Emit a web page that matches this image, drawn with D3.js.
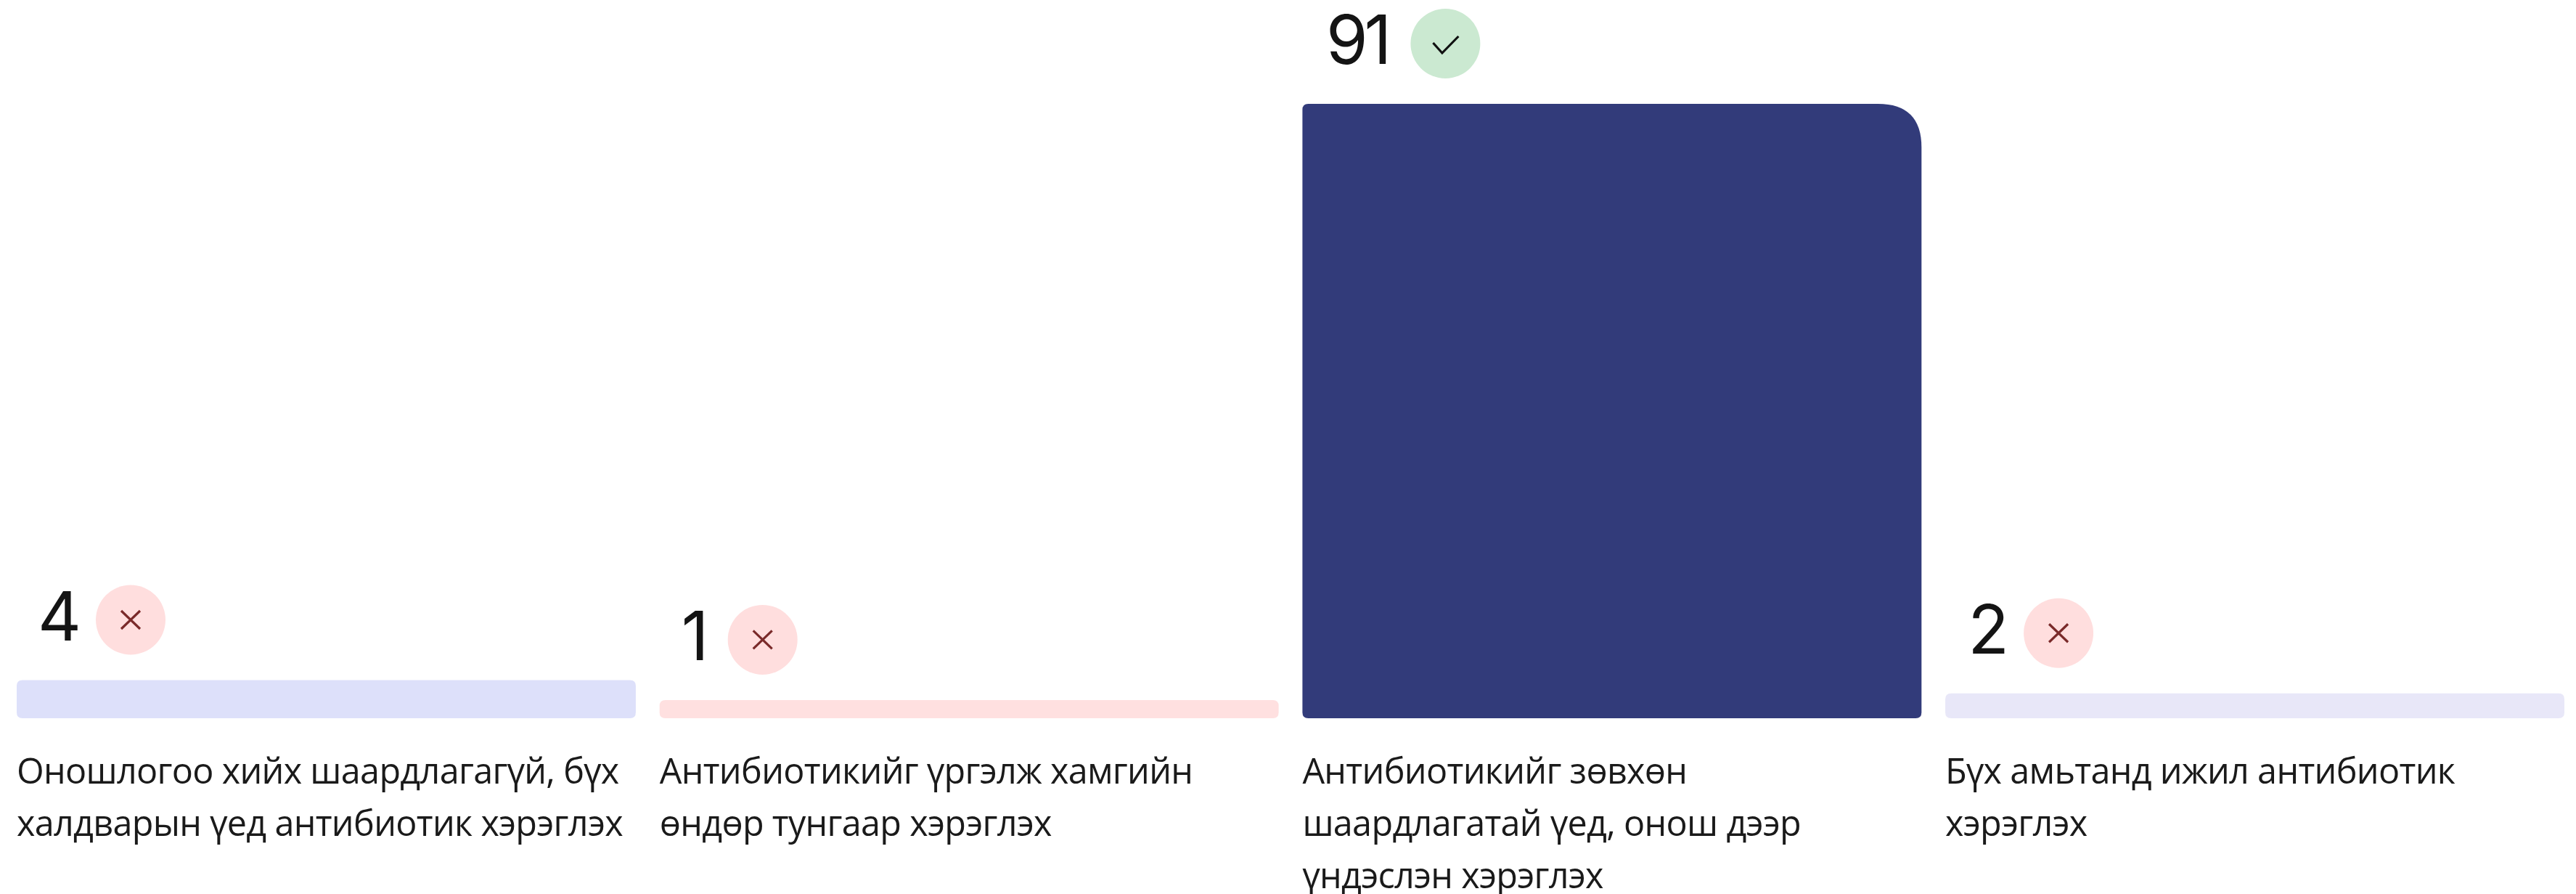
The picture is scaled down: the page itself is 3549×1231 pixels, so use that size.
<!DOCTYPE html>
<html lang="mn">
<head>
  <meta charset="UTF-8">
  <title>Антибиотик</title>
  <script src="https://d3js.org/d3.v7.min.js"></script>
  <style>
    html, body { margin: 0; padding: 0; background: #fff; }
    svg { display: block; }
    .value { font-family: "Inter", sans-serif; font-weight: 400; font-size: 93px; fill: #141414; text-anchor: end; letter-spacing: -5px; }
    .label { font-family: "Open Sans", sans-serif; font-size: 48.5px; letter-spacing: -0.68px; fill: #1a1a1a; }
  </style>
</head>
<body>
  <svg id="viz" width="3549" height="1231"></svg>

  <script>
    const categories = [
      ["Оношлогоо хийх шаардлагагүй, бүх", "халдварын үед антибиотик хэрэглэх"],
      ["Антибиотикийг үргэлж хамгийн", "өндөр тунгаар хэрэглэх"],
      ["Антибиотикийг зөвхөн", "шаардлагатай үед, онош дээр", "үндэслэн хэрэглэх"],
      ["Бүх амьтанд ижил антибиотик", "хэрэглэх"]
    ];
    const values = [4, 1, 91, 2];
    const correct = [false, false, true, false];
    const barColors = ["#dde0fa", "#ffe0e0", "#323b7a", "#e8e7f8"];

    // badge position from the left edge of each bar, and gap to the number
    const badgeOffset = [157, 142, 197, 156];
    const valueGap = [25, 31, 31, 25];

    const svg = d3.select("#viz"),
          baseline = 989,
          badgeR = 48;

    const x = d3.scaleBand()
      .domain(d3.range(values.length))
      .range([23, 3533])
      .paddingInner(0.037);

    // bars start from a stub, value 0 sits a little above the baseline
    const y = d3.scaleLinear()
      .domain([0, 91])
      .range([973, 143]);

    const maxValue = d3.max(values);

    function barPath(i) {
      const p = d3.path(),
            x0 = x(i),
            x1 = x0 + x.bandwidth(),
            top = y(values[i]),
            r = 8,
            rTop = values[i] === maxValue ? 60 : r;
      p.moveTo(x0 + r, top);
      p.lineTo(x1 - rTop, top);
      p.quadraticCurveTo(x1, top, x1, top + rTop);
      p.lineTo(x1, baseline - r);
      p.quadraticCurveTo(x1, baseline, x1 - r, baseline);
      p.lineTo(x0 + r, baseline);
      p.quadraticCurveTo(x0, baseline, x0, baseline - r);
      p.lineTo(x0, top + r);
      p.quadraticCurveTo(x0, top, x0 + r, top);
      p.closePath();
      return p.toString();
    }

    // Draw bars
    svg.selectAll(".bar")
      .data(values)
      .enter()
      .append("path")
      .attr("class", "bar")
      .attr("d", (_, i) => barPath(i))
      .attr("fill", (_, i) => barColors[i]);

    // Draw value + badge above each bar
    const badge = svg.selectAll(".badge")
      .data(values)
      .enter()
      .append("g")
      .attr("class", "badge")
      .attr("transform", (d, i) => `translate(${x(i) + badgeOffset[i]},${y(d) - 83})`);

    badge.append("text")
      .attr("class", "value")
      .attr("x", (_, i) => -badgeR - valueGap[i])
      .attr("y", 28)
      .text(d => d);

    badge.append("circle")
      .attr("r", badgeR)
      .attr("fill", (_, i) => correct[i] ? "#cbe9d1" : "#ffdede");

    badge.append("path")
      .attr("d", (_, i) => correct[i]
        ? "M-17,-1L-4.5,13L18,-10"
        : "M-13,-12.5L13,12.5M13,-12.5L-13,12.5")
      .attr("fill", "none")
      .attr("stroke", (_, i) => correct[i] ? "#111" : "#7a2a2a")
      .attr("stroke-width", 3.2);

    // Draw wrapped labels under the bars
    svg.selectAll(".label")
      .data(categories)
      .enter()
      .append("text")
      .attr("class", "label")
      .attr("y", baseline + 90)
      .each(function(lines, i) {
        d3.select(this).selectAll("tspan")
          .data(lines)
          .enter()
          .append("tspan")
          .attr("x", x(i))
          .attr("dy", (_, k) => k ? 72 : 0)
          .text(d => d);
      });
  </script>
</body>
</html>
